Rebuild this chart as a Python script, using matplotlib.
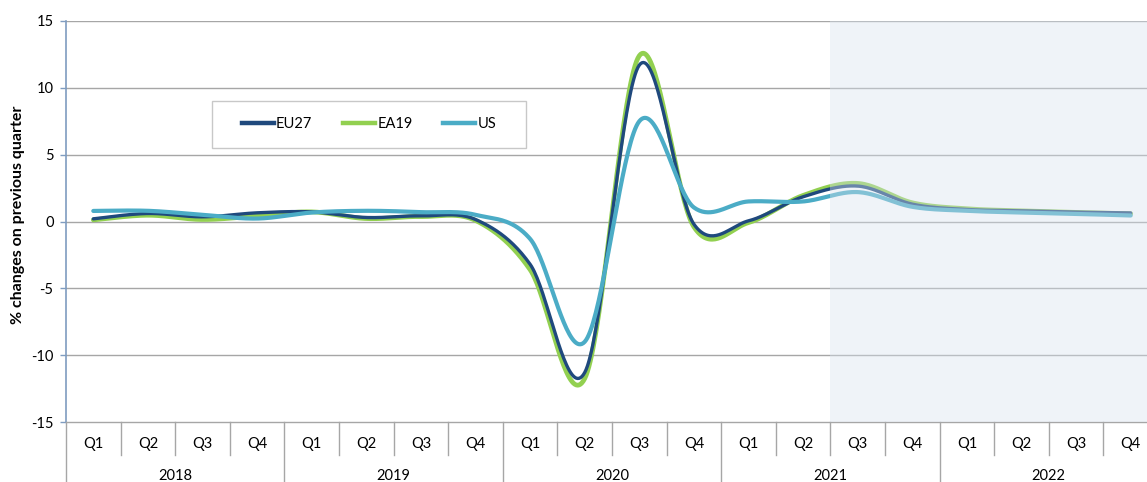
import numpy as np
import matplotlib
matplotlib.use("Agg")
import matplotlib.pyplot as plt
from matplotlib.lines import Line2D
from matplotlib.patches import Rectangle
from matplotlib.transforms import blended_transform_factory

plt.rcParams["font.family"] = ["Lato", "DejaVu Sans"]

# Quarterly real GDP growth, % change on previous quarter
years = ["2018", "2019", "2020", "2021", "2022"]
quarters = ["Q1", "Q2", "Q3", "Q4"]

eu27 = [0.2, 0.6, 0.35, 0.65, 0.72, 0.3, 0.42, 0.15,
        -3.2, -11.3, 11.7, -0.2, 0.05, 1.85, 2.65, 1.3,
        0.9, 0.8, 0.7, 0.64]
ea19 = [0.12, 0.47, 0.15, 0.42, 0.72, 0.22, 0.37, 0.08,
        -3.6, -11.75, 12.4, -0.4, -0.08, 1.95, 2.85, 1.4,
        0.95, 0.8, 0.68, 0.58]
us = [0.79, 0.8, 0.5, 0.22, 0.67, 0.8, 0.7, 0.5,
      -1.3, -9.0, 7.5, 1.05, 1.5, 1.5, 2.2, 1.1,
      0.8, 0.67, 0.57, 0.45]

series = [
    ("EU27", eu27, "#1f497d", 2.4, 3),
    ("EA19", ea19, "#92d050", 3.4, 2),
    ("US", us, "#4bacc6", 3.0, 4),
]

forecast_start = 14  # first forecast quarter (2021 Q3)


def smooth(x, y, n=40):
    """Catmull-Rom style Bezier smoothing through every data point."""
    x = np.asarray(x, float)
    y = np.asarray(y, float)
    px = np.concatenate([[x[0]], x, [x[-1]]])
    py = np.concatenate([[y[0]], y, [y[-1]]])
    t = np.linspace(0, 1, n)[:, None]
    xs, ys = [], []
    for i in range(1, len(px) - 2):
        p0 = np.array([px[i], py[i]])
        p3 = np.array([px[i + 1], py[i + 1]])
        c1 = p0 + (np.array([px[i + 1], py[i + 1]]) - np.array([px[i - 1], py[i - 1]])) / 6
        c2 = p3 - (np.array([px[i + 2], py[i + 2]]) - np.array([px[i], py[i]])) / 6
        pts = ((1 - t) ** 3) * p0 + 3 * ((1 - t) ** 2) * t * c1 + 3 * (1 - t) * t ** 2 * c2 + t ** 3 * p3
        xs.append(pts[:, 0])
        ys.append(pts[:, 1])
    return np.concatenate(xs), np.concatenate(ys)


W, H = 1147, 482
fig = plt.figure(figsize=(W / 100, H / 100), dpi=100)
ax_left, ax_right, ax_top, ax_bottom = 66, 1158, 21, 422
ax = fig.add_axes([ax_left / W, 1 - ax_bottom / H,
                   (ax_right - ax_left) / W, (ax_bottom - ax_top) / H])

n = len(eu27)
x = np.arange(n)
ax.set_xlim(-0.5, n - 0.5)
ax.set_ylim(-15, 15)

# horizontal gridlines
for v in range(-10, 16, 5):
    ax.axhline(v, color="#a6a6a6", lw=1.0, zorder=1)

for name, vals, color, lw, z in series:
    sx, sy = smooth(x, vals)
    ax.plot(sx, sy, color=color, lw=lw, solid_capstyle="round", zorder=z)

# forecast period shading, laid over the lines
ax.axvspan(forecast_start - 0.5, n - 0.5, color="#d7e1ee", alpha=0.4,
           lw=0, zorder=6)

# spines
for s in ["top", "right"]:
    ax.spines[s].set_visible(False)
ax.spines["left"].set_color("#7f9cc0")
ax.spines["left"].set_linewidth(1.2)
ax.spines["bottom"].set_color("#a6a6a6")
ax.spines["bottom"].set_linewidth(1.0)

ax.set_yticks(range(-15, 16, 5))
ax.set_yticklabels([str(v) for v in range(-15, 16, 5)], fontsize=10.5)
ax.tick_params(axis="y", direction="out", length=4, width=1, color="#7f9cc0",
               pad=5)

# quarter labels
ax.set_xticks(x)
ax.set_xticklabels(quarters * len(years), fontsize=10.5)
ax.tick_params(axis="x", length=0, pad=11)

trans = blended_transform_factory(ax.transData, ax.transAxes)
ax_h = ax_bottom - ax_top
q_depth = -(455 - ax_bottom) / ax_h
y_depth = -(H - ax_bottom + 2) / ax_h
for b in range(n + 1):
    pos = b - 0.5
    depth = y_depth if b % 4 == 0 else q_depth
    ax.add_line(Line2D([pos, pos], [0, depth], transform=trans,
                       color="#a6a6a6", lw=1.0, clip_on=False))

for i, yr in enumerate(years):
    ax.text(i * 4 + 1.5, -(476 - ax_bottom) / ax_h, yr, transform=trans,
            ha="center", va="center", fontsize=10.5)

fig.text(18 / W, 1 - 215 / H, "% changes on previous quarter", rotation=90,
         ha="center", va="center", fontsize=11.5, fontweight="bold")

# legend box
lx0, lx1, ly0, ly1 = 212, 526, 101, 148
fig.add_artist(Rectangle((lx0 / W, 1 - ly1 / H), (lx1 - lx0) / W,
                         (ly1 - ly0) / H, transform=fig.transFigure,
                         facecolor="white", edgecolor="#c8c8c8", lw=1.0,
                         zorder=10))
handles = [Line2D([], [], color=c, lw=3.2) for _, _, c, _, _ in series]
leg = fig.legend(handles, [s[0] for s in series], ncol=3, loc="center",
                 bbox_to_anchor=((lx0 + lx1) / 2 / W, 1 - (ly0 + ly1) / 2 / H),
                 frameon=False, fontsize=10.5, handlelength=2.2,
                 handletextpad=0.15, columnspacing=2.1, borderpad=0)
leg.set_zorder(11)

fig.savefig("out.png", dpi=100)
